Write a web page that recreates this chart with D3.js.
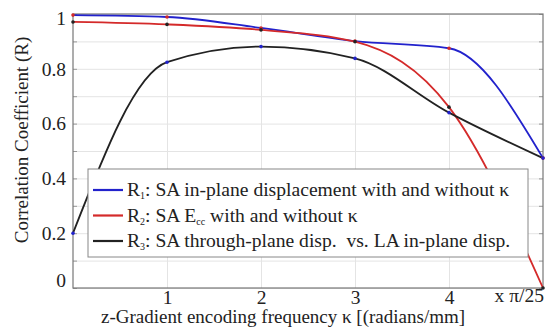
<!DOCTYPE html>
<html>
<head>
<meta charset="utf-8">
<script src="https://cdn.jsdelivr.net/npm/d3@7"></script>
<style>
  body { margin: 0; background: #fff; }
  svg { display: block; }
  svg text { font-family: "Liberation Serif", "Times New Roman", Times, "DejaVu Serif", serif; }
  .grid line { stroke: #e4e4e4; stroke-width: 1; }
  .grid path { display: none; }
  .ticks path { display: none; }
  .ticks line { stroke: #999; }
  .lbl text { font-size: 19.5px; fill: #222; }
  .lbl path, .lbl line { display: none; }
</style>
</head>
<body>
<svg id="chart" width="553" height="329"></svg>
<script>
// kappa in units of pi/25 rad/mm
const kappa = [0, 1, 2, 3, 4, 5];
const r1 = [0.996, 0.989, 0.949, 0.901, 0.875, 0.474];
const r2 = [0.971, 0.962, 0.942, 0.899, 0.66, 0];
const r3 = [0.2, 0.824, 0.881, 0.838, 0.64, 0.474];

const xTicks = [1, 2, 3, 4];
const yTicks = [0, 0.2, 0.4, 0.6, 0.8, 1];
const yMinor = d3.range(0, 11).map((i) => i / 10);

const series = [
  { name: "R1", values: r1, color: "#2222cc", marker: "#d42a2a" },
  { name: "R2", values: r2, color: "#d42a2a", marker: "#222" },
  { name: "R3", values: r3, color: "#222", marker: "#2222cc" },
];

const W = 553, H = 329;
const m = { left: 73, right: 10, top: 14, bottom: 41 };
const svg = d3.select("#chart");

const x = d3.scaleLinear().domain([0, 5]).range([m.left, W - m.right]);
const y = d3.scaleLinear().domain([0, 1]).range([H - m.bottom, m.top]);
const iw = W - m.left - m.right, ih = H - m.top - m.bottom;

// gridlines
svg.append("g").attr("class", "grid")
  .attr("transform", `translate(${m.left},0)`)
  .call(d3.axisLeft(y).tickValues(yMinor).tickSize(-iw).tickFormat(""));
svg.append("g").attr("class", "grid")
  .attr("transform", `translate(0,${H - m.bottom})`)
  .call(d3.axisBottom(x).tickValues(xTicks).tickSize(-ih).tickFormat(""));

// small inward ticks on left/right edges
svg.append("g").attr("class", "ticks")
  .attr("transform", `translate(${m.left},0)`)
  .call(d3.axisLeft(y).tickValues(yMinor).tickSize(-4).tickFormat(""));
svg.append("g").attr("class", "ticks")
  .attr("transform", `translate(${W - m.right},0)`)
  .call(d3.axisRight(y).tickValues(yMinor).tickSize(-4).tickFormat(""));

// frame
svg.append("rect")
  .attr("x", m.left).attr("y", m.top).attr("width", iw).attr("height", ih)
  .attr("fill", "none").attr("stroke", "#777").attr("stroke-width", 1.2);

// tick labels
const yl = svg.append("g").attr("class", "lbl")
  .attr("transform", `translate(${m.left - 5},0)`)
  .call(d3.axisLeft(y).tickValues(yTicks).tickSize(0).tickPadding(2).tickFormat(d3.format("")));
yl.attr("font-family", null);
yl.selectAll("text").attr("dy", (d) => (d === 0 ? "-0.1em" : d === 1 ? "0.52em" : "0.32em"));

const xl = svg.append("g").attr("class", "lbl")
  .attr("transform", `translate(0,${H - m.bottom})`)
  .call(d3.axisBottom(x).tickValues(xTicks).tickSize(0).tickPadding(2).tickFormat(d3.format("d")));
xl.attr("font-family", null);

svg.append("text")
  .attr("x", W - m.right + 1).attr("y", H - m.bottom + 14)
  .attr("text-anchor", "end").attr("font-size", 19.5).attr("fill", "#222")
  .text("x \u03c0/25");

// axis titles
svg.append("text")
  .attr("x", (m.left + W - m.right) / 2 - 25).attr("y", H - 6)
  .attr("text-anchor", "middle").attr("font-size", 19).attr("fill", "#222")
  .text("z-Gradient encoding frequency \u03ba [(radians/mm]");
svg.append("text")
  .attr("transform", `translate(28,140) rotate(-90)`)
  .attr("text-anchor", "middle").attr("font-size", 19).attr("fill", "#222")
  .text("Correlation Coefficient (R)");

// curves
const line = d3.line().curve(d3.curveMonotoneX)
  .x((d, i) => x(kappa[i])).y((d) => y(d));
const plot = svg.append("g");
series.forEach((s) => {
  plot.append("path").attr("d", line(s.values))
    .attr("fill", "none").attr("stroke", s.color).attr("stroke-width", 1.8);
});
series.forEach((s) => {
  plot.selectAll(null).data(s.values).join("circle")
    .attr("cx", (d, i) => x(kappa[i])).attr("cy", (d) => y(d))
    .attr("r", 1.8).attr("fill", s.marker);
});

// legend
const lg = svg.append("g").attr("transform", "translate(88,169)");
lg.append("rect").attr("width", 440).attr("height", 88)
  .attr("fill", "#fff").attr("stroke", "#888").attr("stroke-width", 1);
const rows = [
  { sub: "1", pre: ": SA in-plane displacement with and without \u03ba" },
  { sub: "2", pre: ": SA E", cc: true, post: " with and without \u03ba" },
  { sub: "3", pre: ": SA through-plane disp.  vs. LA in-plane disp." },
];
rows.forEach((r, i) => {
  const yy = 21 + i * 25.5;
  lg.append("line").attr("x1", 5).attr("x2", 35).attr("y1", yy).attr("y2", yy)
    .attr("stroke", series[i].color).attr("stroke-width", 2.2);
  const t = lg.append("text").attr("x", 39).attr("y", yy + 6)
    .attr("font-size", 19.6).attr("fill", "#222").style("white-space", "pre");
  t.append("tspan").text("R");
  t.append("tspan").attr("font-size", 10).attr("dy", 3).text(r.sub);
  t.append("tspan").attr("dy", -3).text(r.pre);
  if (r.cc) {
    t.append("tspan").attr("font-size", 10).attr("dy", 3).text("cc");
    t.append("tspan").attr("dy", -3).text(r.post);
  }
});
</script>
</body>
</html>
